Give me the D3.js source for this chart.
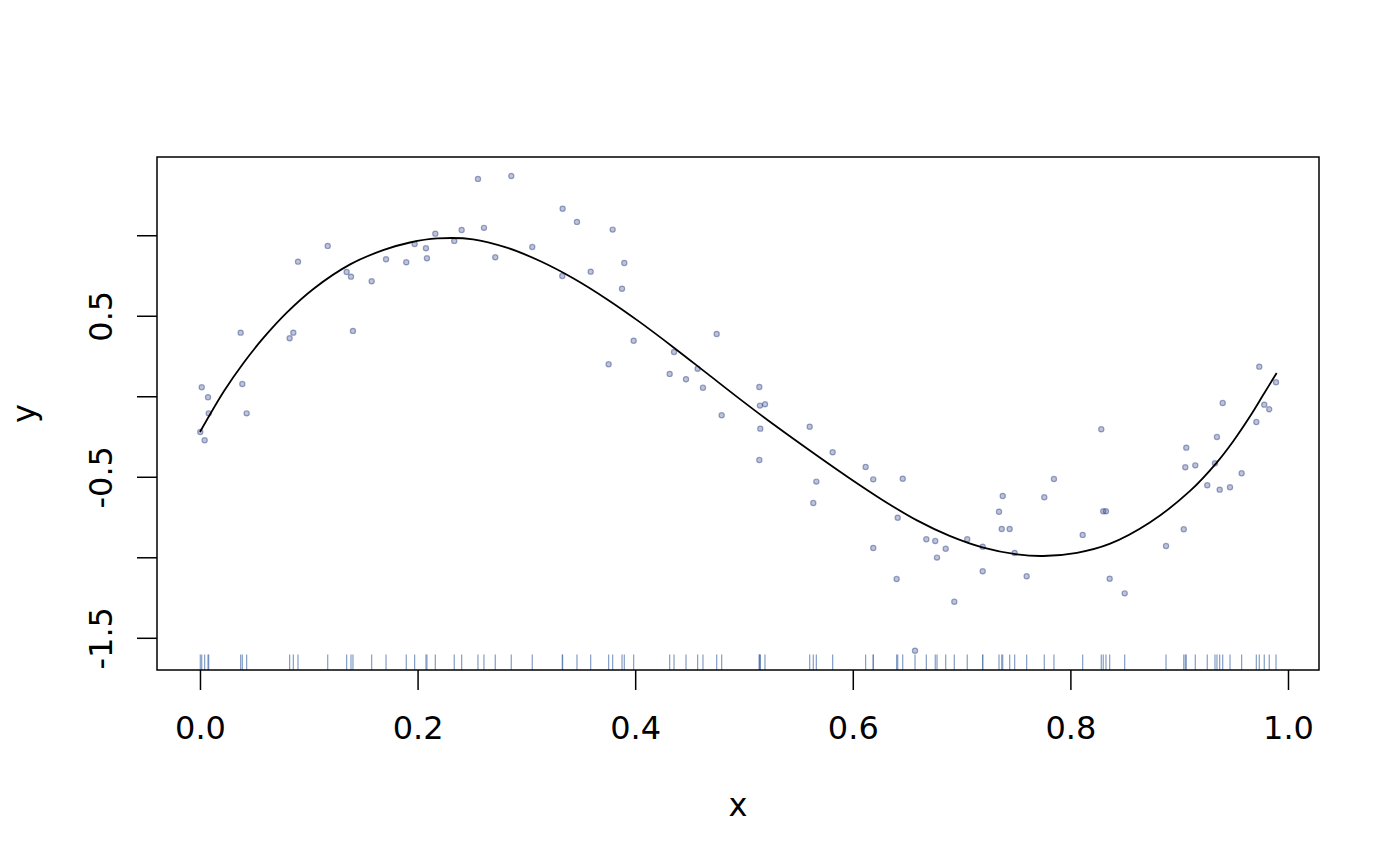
<!DOCTYPE html>
<html lang="en">
<head>
  <meta charset="UTF-8">
  <title>x vs y</title>
  <script src="https://cdn.jsdelivr.net/npm/d3@7"></script>
  <style>
    body { margin: 0; background: #fff; }
    svg { display: block; font-family: "DejaVu Sans", sans-serif; }
  </style>
</head>
<body>
  <svg width="1400" height="866"></svg>
  <script>
    // observed points
    var xs = [0.0003, 0.0043, 0.0016, 0.0074, 0.0080, 0.0374, 0.0389, 0.0429, 0.0824, 0.0858,
      0.0901, 0.1174, 0.1348, 0.1388, 0.1406, 0.1578, 0.1710, 0.1896, 0.1973, 0.2077,
      0.2086, 0.2163, 0.2337, 0.2405, 0.2555, 0.2610, 0.2714, 0.2861, 0.3054, 0.3333,
      0.3330, 0.3465, 0.3591, 0.3793, 0.3900, 0.3879, 0.3986, 0.3756, 0.4749, 0.4357,
      0.4317, 0.4467, 0.4574, 0.4623, 0.4795, 0.5141, 0.5147, 0.5193, 0.5150, 0.5141,
      0.5604, 0.5815, 0.5665, 0.5637, 0.6118, 0.6188, 0.6413, 0.6188, 0.6459, 0.6403,
      0.6676, 0.6758, 0.6774, 0.6854, 0.6933, 0.7052, 0.7194, 0.7194, 0.6572, 0.7344,
      0.7378, 0.7369, 0.7442, 0.7488, 0.7598, 0.7760, 0.7849, 0.8113, 0.8284, 0.8302,
      0.8327, 0.8361, 0.8499, 0.8879, 0.9042, 0.9056, 0.9065, 0.9148, 0.9258, 0.9329,
      0.9347, 0.9372, 0.9400, 0.9467, 0.9574, 0.9709, 0.9736, 0.9782, 0.9828, 0.9890];
    var ys = [-0.222, -0.273, 0.056, -0.006, -0.106, 0.395, 0.076, -0.106, 0.360, 0.395,
      0.836, 0.934, 0.772, 0.743, 0.406, 0.714, 0.851, 0.832, 0.946, 0.919,
      0.857, 1.010, 0.965, 1.033, 1.350, 1.046, 0.863, 1.368, 0.927, 1.165,
      0.747, 1.083, 0.774, 1.035, 0.828, 0.668, 0.345, 0.199, 0.387, 0.275,
      0.139, 0.106, 0.171, 0.053, -0.118, 0.058, -0.058, -0.050, -0.201, -0.396,
      -0.189, -0.348, -0.530, -0.663, -0.439, -0.516, -0.754, -0.942, -0.512, -1.135,
      -0.888, -0.899, -1.002, -0.947, -1.276, -0.888, -0.934, -1.087, -1.580, -0.717,
      -0.619, -0.824, -0.824, -0.973, -1.118, -0.627, -0.514, -0.861, -0.205, -0.714,
      -0.714, -1.133, -1.224, -0.930, -0.826, -0.441, -0.319, -0.429, -0.553, -0.416,
      -0.253, -0.580, -0.042, -0.565, -0.478, -0.160, 0.184, -0.052, -0.081, 0.087];

    // fitted curve
    var fitX = [0.000, 0.022, 0.040, 0.0585, 0.080, 0.1045, 0.138, 0.169, 0.193, 0.218,
      0.251, 0.282, 0.3125, 0.343, 0.374, 0.404, 0.435, 0.466, 0.496, 0.527,
      0.567, 0.597, 0.628, 0.659, 0.689, 0.720, 0.751, 0.775, 0.806, 0.836,
      0.873, 0.910, 0.9345, 0.950, 0.965, 0.977, 0.9896];
    var fitY = [-0.222, 0.031, 0.207, 0.364, 0.521, 0.668, 0.819, 0.909, 0.955, 0.980,
      0.975, 0.923, 0.840, 0.733, 0.603, 0.462, 0.305, 0.142, -0.016, -0.174,
      -0.368, -0.509, -0.647, -0.771, -0.867, -0.940, -0.982, -0.992, -0.972, -0.917,
      -0.784, -0.588, -0.412, -0.276, -0.126, 0.006, 0.145];

    var xTicks = [0, 0.2, 0.4, 0.6, 0.8, 1.0];
    var yTicks = [-1.5, -1, -0.5, 0, 0.5, 1];
    var yTickLabels = ['-1.5', '', '-0.5', '', '0.5', ''];

    var svg = d3.select('svg');
    var box = {left: 157, right: 1319, top: 157, bottom: 670};

    var xScale = d3.scaleLinear().domain([-0.0395, 1.0285]).range([box.left, box.right]);
    var yScale = d3.scaleLinear().domain([-1.700, 1.486]).range([box.bottom, box.top]);

    var pts = xs.map(function(x, i) { return {x: x, y: ys[i]}; });
    var fit = fitX.map(function(x, i) { return {x: x, y: fitY[i]}; });

    // rug
    svg.append('g').selectAll('line')
      .data(xs)
      .enter().append('line')
      .attr('x1', function(d) { return xScale(d); })
      .attr('x2', function(d) { return xScale(d); })
      .attr('y1', box.bottom)
      .attr('y2', box.bottom - 15.4)
      .attr('stroke', '#4f74ad')
      .attr('stroke-opacity', 0.7)
      .attr('stroke-width', 1.2);

    // points
    svg.append('g').selectAll('circle')
      .data(pts)
      .enter().append('circle')
      .attr('cx', function(d) { return xScale(d.x); })
      .attr('cy', function(d) { return yScale(d.y); })
      .attr('r', 2.6)
      .attr('fill', 'rgba(40,60,130,0.3)')
      .attr('stroke', 'rgba(40,60,130,0.45)')
      .attr('stroke-width', 1.2);

    // fitted line
    var line = d3.line()
      .curve(d3.curveCatmullRom)
      .x(function(d) { return xScale(d.x); })
      .y(function(d) { return yScale(d.y); });
    svg.append('path')
      .datum(fit)
      .attr('d', line)
      .attr('fill', 'none')
      .attr('stroke', '#000')
      .attr('stroke-width', 1.8);

    // box
    svg.append('rect')
      .attr('x', box.left).attr('y', box.top)
      .attr('width', box.right - box.left).attr('height', box.bottom - box.top)
      .attr('fill', 'none').attr('stroke', '#000').attr('stroke-width', 1.5);

    // x axis
    var xAxis = d3.axisBottom(xScale)
      .tickValues(xTicks)
      .tickSize(20)
      .tickSizeOuter(0)
      .tickFormat(d3.format('.1f'));
    var gx = svg.append('g')
      .attr('transform', 'translate(0,' + box.bottom + ')')
      .call(xAxis);
    gx.select('.domain').remove();
    gx.selectAll('line').attr('stroke', '#000').attr('stroke-width', 1.5);
    gx.selectAll('text')
      .attr('y', 69).attr('dy', 0)
      .attr('fill', '#000')
      .style('font-size', '32px')
      .style('font-family', '"DejaVu Sans", sans-serif');

    // y axis
    var yAxis = d3.axisLeft(yScale)
      .tickValues(yTicks)
      .tickSize(20)
      .tickSizeOuter(0)
      .tickFormat(function(d, i) { return yTickLabels[i]; });
    var gy = svg.append('g')
      .attr('transform', 'translate(' + box.left + ',0)')
      .call(yAxis);
    gy.select('.domain').remove();
    gy.selectAll('line').attr('stroke', '#000').attr('stroke-width', 1.5);
    gy.selectAll('text')
      .attr('x', 0).attr('y', 0).attr('dy', 0)
      .attr('text-anchor', 'middle')
      .attr('transform', 'translate(' + (111.7 - box.left) + ',0) rotate(-90)')
      .attr('fill', '#000')
      .style('font-size', '32px')
      .style('font-family', '"DejaVu Sans", sans-serif');

    // axis titles
    svg.append('text')
      .attr('x', (box.left + box.right) / 2)
      .attr('y', 816)
      .attr('text-anchor', 'middle')
      .style('font-size', '32px')
      .text('x');
    svg.append('text')
      .attr('transform', 'translate(34.5,' + (box.top + box.bottom) / 2 + ') rotate(-90)')
      .attr('text-anchor', 'middle')
      .style('font-size', '32px')
      .text('y');
  </script>
</body>
</html>
